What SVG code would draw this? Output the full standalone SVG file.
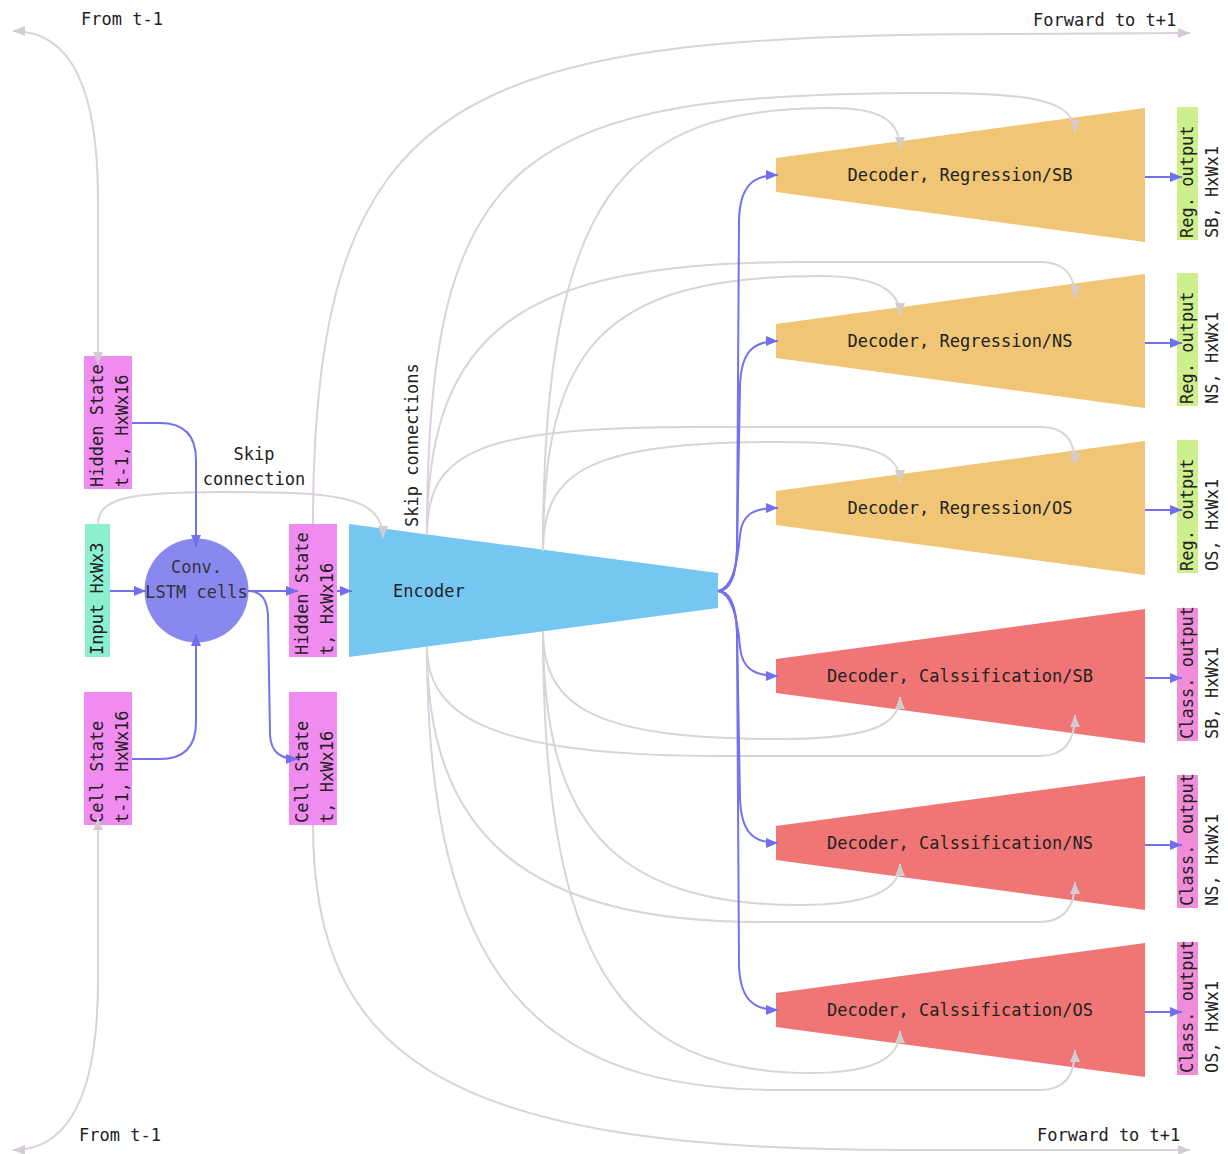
<svg xmlns="http://www.w3.org/2000/svg" width="1228" height="1154" viewBox="0 0 1228 1154">
<defs>
<style>
text{font-family:"DejaVu Sans Mono","Liberation Mono",monospace;font-size:17px;fill:#222}
.pink{fill:#f08cf0}
.reg{fill:#f0c575}
.cls{fill:#f07575}
.ro{fill:#cdf08c}
.co{fill:#f08cd8}
.b{fill:none;stroke:#7272ee;stroke-width:2;marker-end:url(#ab)}
.g{fill:none;stroke:#dad2dc;stroke-width:2}
.w{fill:none;stroke:#d9d5d1;stroke-width:2}
.ge{marker-end:url(#ag)}
.we{marker-end:url(#aw)}
</style>
<marker id="ab" viewBox="0 0 12 10" refX="12" refY="5" markerWidth="12" markerHeight="10" markerUnits="userSpaceOnUse" orient="auto-start-reverse"><path d="M0,0 L12,5 L0,10 z" fill="#7070ee"/></marker>
<marker id="ag" viewBox="0 0 12 10" refX="12" refY="5" markerWidth="12" markerHeight="10" markerUnits="userSpaceOnUse" orient="auto-start-reverse"><path d="M0,0 L12,5 L0,10 z" fill="#d4cbd5"/></marker>
<marker id="aw" viewBox="0 0 12 10" refX="12" refY="5" markerWidth="12" markerHeight="10" markerUnits="userSpaceOnUse" orient="auto-start-reverse"><path d="M0,0 L12,5 L0,10 z" fill="#d2cdca"/></marker>
</defs>
<rect width="1228" height="1154" fill="#ffffff"/>

<g id="node-hidden-prev">
<rect class="pink" x="84" y="356" width="48" height="133"/>
<text transform="rotate(-90)" x="-487" y="103">Hidden State</text>
<text transform="rotate(-90)" x="-487" y="128">t-1, HxWx16</text>
</g>
<g id="node-input">
<rect fill="#8cf0d0" x="85" y="524" width="25" height="133"/>
<text transform="rotate(-90)" x="-655" y="103">Input HxWx3</text>
</g>
<g id="node-cell-prev">
<rect class="pink" x="84" y="692" width="48" height="133"/>
<text transform="rotate(-90)" x="-823" y="103">Cell State</text>
<text transform="rotate(-90)" x="-823" y="128">t-1, HxWx16</text>
</g>
<g id="node-lstm">
<circle cx="196.5" cy="590.5" r="52" fill="#8888ee"/>
<text x="196.5" y="573" text-anchor="middle" style="fill:#333">Conv.</text>
<text x="196.5" y="598" text-anchor="middle" style="fill:#333">LSTM cells</text>
</g>
<g id="node-hidden-t">
<rect class="pink" x="289" y="524" width="48" height="133"/>
<text transform="rotate(-90)" x="-655" y="308">Hidden State</text>
<text transform="rotate(-90)" x="-655" y="333">t, HxWx16</text>
</g>
<g id="node-cell-t">
<rect class="pink" x="289" y="692" width="48" height="133"/>
<text transform="rotate(-90)" x="-823" y="308">Cell State</text>
<text transform="rotate(-90)" x="-823" y="333">t, HxWx16</text>
</g>
<g id="node-encoder">
<polygon points="349,524 718,573 718,608 349,657" fill="#75c6f0"/>
<text x="393" y="597">Encoder</text>
</g>

<g id="node-dec-reg-sb">
<polygon class="reg" points="776,158 1145,108 1145,242 776,192"/>
<text x="960" y="181" text-anchor="middle">Decoder, Regression/SB</text>
</g>
<g id="node-dec-reg-ns">
<polygon class="reg" points="776,324 1145,274 1145,408 776,358"/>
<text x="960" y="347" text-anchor="middle">Decoder, Regression/NS</text>
</g>
<g id="node-dec-reg-os">
<polygon class="reg" points="776,491 1145,441 1145,575 776,525"/>
<text x="960" y="514" text-anchor="middle">Decoder, Regression/OS</text>
</g>
<g id="node-dec-cls-sb">
<polygon class="cls" points="776,659 1145,609 1145,743 776,693"/>
<text x="960" y="682" text-anchor="middle">Decoder, Calssification/SB</text>
</g>
<g id="node-dec-cls-ns">
<polygon class="cls" points="776,826 1145,776 1145,910 776,860"/>
<text x="960" y="849" text-anchor="middle">Decoder, Calssification/NS</text>
</g>
<g id="node-dec-cls-os">
<polygon class="cls" points="776,993 1145,943 1145,1077 776,1027"/>
<text x="960" y="1016" text-anchor="middle">Decoder, Calssification/OS</text>
</g>

<g id="node-out-reg-sb">
<rect class="ro" x="1177" y="107" width="21" height="133"/>
<text transform="rotate(-90)" x="-238" y="1193">Reg. output</text>
<text transform="rotate(-90)" x="-238" y="1218">SB, HxWx1</text>
</g>
<g id="node-out-reg-ns">
<rect class="ro" x="1177" y="273" width="21" height="133"/>
<text transform="rotate(-90)" x="-404" y="1193">Reg. output</text>
<text transform="rotate(-90)" x="-404" y="1218">NS, HxWx1</text>
</g>
<g id="node-out-reg-os">
<rect class="ro" x="1177" y="440" width="21" height="133"/>
<text transform="rotate(-90)" x="-571" y="1193">Reg. output</text>
<text transform="rotate(-90)" x="-571" y="1218">OS, HxWx1</text>
</g>
<g id="node-out-cls-sb">
<rect class="co" x="1177" y="608" width="21" height="133"/>
<text transform="rotate(-90)" x="-739" y="1193">Class. output</text>
<text transform="rotate(-90)" x="-739" y="1218">SB, HxWx1</text>
</g>
<g id="node-out-cls-ns">
<rect class="co" x="1177" y="775" width="21" height="133"/>
<text transform="rotate(-90)" x="-906" y="1193">Class. output</text>
<text transform="rotate(-90)" x="-906" y="1218">NS, HxWx1</text>
</g>
<g id="node-out-cls-os">
<rect class="co" x="1177" y="942" width="21" height="133"/>
<text transform="rotate(-90)" x="-1073" y="1193">Class. output</text>
<text transform="rotate(-90)" x="-1073" y="1218">OS, HxWx1</text>
</g>

<g id="connectors">
<!-- recurrent in/out -->
<path class="g" d="M13 31 C72 31 98 90 98 200 V364" marker-start="url(#ag)" marker-end="url(#ag)"/>
<path class="g" d="M13 1150 C72 1150 98 1090 98 980 V818" marker-start="url(#ag)" marker-end="url(#ag)"/>
<path class="g ge" d="M313 524 C313 90 460 35 1000 34 L1190 33"/>
<path class="g ge" d="M313 825 C313 1060 450 1150 900 1150 L1190 1150"/>
<!-- skip connection input -> encoder -->
<path class="g ge" d="M98 524 C98 498 130 492 220 492 C330 492 383 494 383 538"/>
<!-- skip connections to decoders (far, from x=427) -->
<path class="g ge" d="M427 535 C427 150 520 93 930 93 C1030 93 1075 100 1075 132"/>
<path class="g ge" d="M427 535 C427 330 520 262 800 262 H1040 C1065 262 1075 275 1075 298"/>
<path class="g ge" d="M427 535 C427 450 480 427 700 427 H1040 C1065 427 1075 440 1075 465"/>
<path class="g ge" d="M427 647 C427 720 500 756 720 756 H1040 C1065 756 1075 740 1075 715"/>
<path class="g ge" d="M427 647 C427 830 520 922 760 922 H1040 C1065 922 1075 905 1075 882"/>
<path class="g ge" d="M427 647 C427 980 540 1090 780 1090 H1040 C1065 1090 1075 1075 1075 1050"/>
<!-- skip connections (near, from x=543) -->
<path class="w we" d="M543 551 C543 200 620 108 830 108 C880 108 900 120 900 149"/>
<path class="w we" d="M543 551 C543 350 600 276 820 276 C875 276 900 290 900 315"/>
<path class="w we" d="M543 551 C543 470 590 442 780 442 C870 442 900 452 900 482"/>
<path class="w we" d="M543 631 C543 710 600 739 780 739 C870 739 900 725 900 697"/>
<path class="w we" d="M543 631 C543 820 610 905 800 905 C870 905 900 890 900 864"/>
<path class="w we" d="M543 631 C543 960 620 1073 810 1073 C870 1073 900 1060 900 1031"/>
<!-- LSTM flow -->
<path class="b" d="M132 423 H160 C185 423 196 436 196 460 V547"/>
<path class="b" d="M110 591 H146"/>
<path class="b" d="M132 759 H160 C185 759 196 746 196 722 V634"/>
<path class="b" d="M248 591 H298"/>
<path class="b" d="M248 591 C262 591 267 600 268 615 L270 735 C271 752 280 759 298 759"/>
<path class="b" d="M337 591 H352"/>
<!-- encoder -> decoders -->
<path class="b" d="M718 591 C730 591 736 575 737 550 L739 220 C740 187 752 175 778 175"/>
<path class="b" d="M718 591 C730 591 736 575 737 550 L740 386 C741 353 752 341 778 341"/>
<path class="b" d="M718 591 C733 588 738 560 740 535 C742 515 752 508 778 508"/>
<path class="b" d="M718 591 C733 594 738 622 740 647 C742 667 752 676 778 676"/>
<path class="b" d="M718 591 C730 591 736 607 737 632 L740 798 C741 831 752 843 778 843"/>
<path class="b" d="M718 591 C730 591 736 607 737 632 L739 965 C740 998 752 1010 778 1010"/>
<!-- decoders -> outputs -->
<path class="b" d="M1145 177 H1182"/>
<path class="b" d="M1145 343 H1182"/>
<path class="b" d="M1145 510 H1182"/>
<path class="b" d="M1145 678 H1182"/>
<path class="b" d="M1145 845 H1182"/>
<path class="b" d="M1145 1012 H1182"/>
</g>

<g id="labels">
<text x="81" y="25">From t-1</text>
<text x="1033" y="26">Forward to t+1</text>
<text x="79" y="1141">From t-1</text>
<text x="1037" y="1141">Forward to t+1</text>
<text x="254" y="460" text-anchor="middle">Skip</text>
<text x="254" y="485" text-anchor="middle">connection</text>
<text transform="rotate(-90)" x="-527" y="418">Skip connections</text>
</g>
</svg>
